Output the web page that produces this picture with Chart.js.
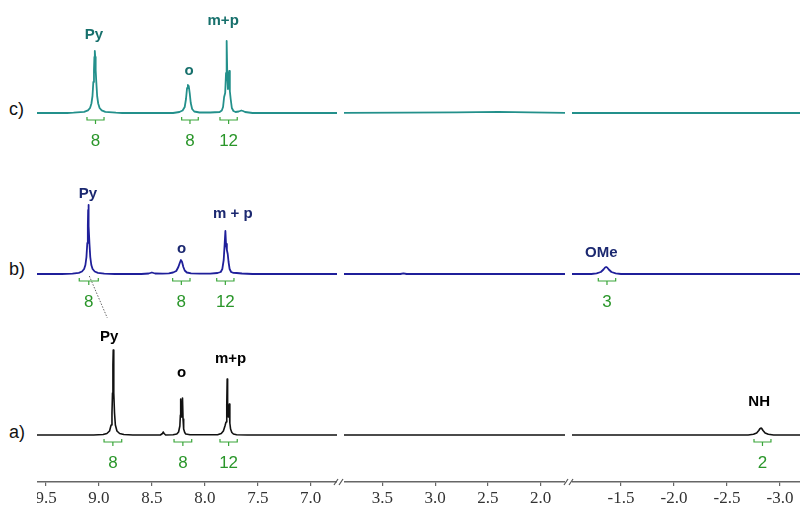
<!DOCTYPE html>
<html><head><meta charset="utf-8">
<script src="https://cdn.jsdelivr.net/npm/chart.js@4/dist/chart.umd.min.js"></script>
<style>
body{margin:0;width:800px;height:509px;position:relative;background:#fff;overflow:hidden;font-family:"Liberation Sans",Arial,sans-serif}
.seg{position:absolute;top:0;height:509px;overflow:hidden}
.lab{position:absolute;font-size:18px;line-height:18px;color:#111;left:9px}
svg{position:absolute;left:0;top:0}
</style></head><body>
<div class="seg" style="left:37px;width:300px"><canvas id="s0" width="300" height="509"></canvas></div>
<div class="seg" style="left:344px;width:221px"><canvas id="s1" width="221" height="509"></canvas></div>
<div class="seg" style="left:572px;width:228px"><canvas id="s2" width="228" height="509"></canvas></div>
<div class="lab" style="top:100px">c)</div>
<div class="lab" style="top:260px">b)</div>
<div class="lab" style="top:423px">a)</div>
<svg width="800" height="509"><g stroke="#555" stroke-width="1.2">
<line x1="334" y1="485" x2="338" y2="479"/><line x1="339" y1="485" x2="343" y2="479"/>
<line x1="564" y1="485" x2="568" y2="479"/><line x1="569" y1="485" x2="573" y2="479"/>
</g></svg>
<script>
// ppm windows of the three axis segments [high, low]
const segmentRanges = [[9.585, 6.752], [3.863, 1.770], [-1.038, -3.189]];
const spectrumNames = ['a)', 'b)', 'c)'];
const baselineOffsets = [0, 161, 322];
const traceColors = ['#111111', '#1f1f9a', '#23908b'];
const labelColors = ['#000000', '#1b2870', '#17706c'];

// spectra: [ppm, relative intensity]
const specA = [[9.70,0],[9.05,0],[8.96,0.5],[8.925,1.5],[8.90,4],[8.885,10],[8.877,22],[8.872,42],[8.868,70],[8.865,85],[8.862,70],[8.858,42],[8.853,22],[8.845,10],[8.830,4],[8.805,1.5],[8.765,0.5],[8.68,0],
[8.42,0],[8.40,1.5],[8.392,3],[8.385,1.5],[8.37,0],
[8.30,0.3],[8.265,1],[8.248,3],[8.236,9],[8.231,20],[8.228,36],[8.224,18],[8.220,32],[8.216,20],[8.211,37],[8.206,16],[8.200,6],[8.190,2.5],[8.18,1],[8.14,0.3],
[7.88,0.3],[7.845,1.5],[7.825,4],[7.81,9],[7.80,13],[7.793,30],[7.789,56],[7.785,24],[7.779,18],[7.773,26],[7.769,31],[7.764,12],[7.757,6],[7.745,2.5],[7.73,1],[7.70,0.3],[7.60,0],[6.60,0],
[3.95,0],[1.6,0],[-0.9,0],
[-2.70,0],[-2.75,0.7],[-2.78,2],[-2.80,4.5],[-2.812,6.5],[-2.82,7],[-2.828,6.5],[-2.84,4.5],[-2.86,2],[-2.89,0.7],[-2.94,0],[-3.3,0]];

const specB = [[9.70,0],[9.35,0],[9.25,0.4],[9.19,1.2],[9.16,2.5],[9.14,5],[9.128,9],[9.118,17],[9.110,31],[9.105,48],[9.102,64],[9.100,69],[9.098,64],[9.095,48],[9.090,31],[9.082,17],[9.072,9],[9.060,5],[9.04,2.5],[9.01,1.2],[8.95,0.4],[8.85,0],
[8.60,0],[8.53,0.5],[8.50,1.5],[8.47,0.5],[8.40,0.3],
[8.34,0.7],[8.30,1.5],[8.27,3],[8.25,7],[8.237,11],[8.226,14],[8.215,12],[8.203,7],[8.19,3.5],[8.17,1.5],[8.13,0.7],[8.05,0.3],[7.95,0.3],
[7.88,1],[7.85,2],[7.835,5],[7.822,14],[7.813,30],[7.806,43],[7.800,30],[7.792,24],[7.784,20],[7.776,12],[7.766,5],[7.752,2],[7.73,1.2],[7.70,1],[7.65,0.5],[7.55,0],[6.60,0],
[3.95,0],[3.33,0],[3.30,0.7],[3.27,0],[1.6,0],
[-0.9,0],[-1.22,0],[-1.27,0.7],[-1.31,2],[-1.335,4.5],[-1.35,6.5],[-1.36,7],[-1.37,6.5],[-1.385,4.5],[-1.41,2],[-1.45,0.7],[-1.50,0],[-3.3,0]];

const specC = [[9.70,0],[9.30,0],[9.24,0.3],[9.14,1.1],[9.104,2.6],[9.084,5],[9.071,9.5],[9.061,17],[9.053,31],[9.047,43],[9.043,56],[9.039,62],[9.035,56],[9.031,43],[9.025,31],[9.017,17],[9.007,9.5],[8.994,5],[8.974,2.6],[8.94,1.1],[8.84,0.3],[8.78,0],
[8.30,0],[8.24,1],[8.21,2.5],[8.19,6],[8.178,14],[8.168,25],[8.160,28],[8.152,27],[8.143,20],[8.133,10],[8.12,4],[8.10,1.5],[8.05,0.5],[7.95,0.5],
[7.86,1],[7.84,2.5],[7.828,6],[7.818,16],[7.808,20],[7.800,40],[7.794,72],[7.788,38],[7.782,24],[7.776,36],[7.770,42],[7.764,22],[7.756,14],[7.745,5],[7.73,2],[7.71,1],[7.68,1.5],[7.655,2.5],[7.64,2],[7.62,1],[7.55,0],[6.60,0],
[3.95,0],[3.3,0.3],[2.8,0.6],[2.4,1.2],[2.1,0.6],[1.6,0],[-0.9,0],[-3.3,0]];

// peak labels: [spectrum, ppm, height above baseline, text]
const peakLabels = [
 [2, 9.047, 74, 'Py'], [2, 8.148, 38, 'o'], [2, 7.827, 88, 'm+p'],
 [1, 9.104, 76, 'Py'], [1, 8.220, 21, 'o'], [1, 7.736, 56, 'm + p'], [1, -1.314, 17, 'OMe'],
 [0, 8.904, 94, 'Py'], [0, 8.219, 58, 'o'], [0, 7.757, 72, 'm+p'], [0, -2.804, 29, 'NH']
];
// integrals: [spectrum, from ppm, to ppm, value]
const integrals = [
 [2, 9.113, 8.952, '8'], [2, 8.219, 8.062, '8'], [2, 7.857, 7.694, '12'],
 [1, 9.186, 9.006, '8'], [1, 8.304, 8.140, '8'], [1, 7.888, 7.725, '12'], [1, -1.286, -1.450, '3'],
 [0, 8.952, 8.785, '8'], [0, 8.291, 8.124, '8'], [0, 7.857, 7.694, '12'], [0, -2.755, -2.915, '2']
];
// dotted connector: [spectrum, ppm1, h1, ppm2, h2]
const connector = [0, 9.091, 159, 8.921, 117];

const spectra = [specA, specB, specC];

const annot = {
  id: 'annot',
  afterDatasetsDraw(chart) {
    const ctx = chart.ctx, xs = chart.scales.x, ys = chart.scales.y;
    const inR = p => p <= xs.max + 0.3 && p >= xs.min - 0.3;
    ctx.save();
    if (inR(connector[1])) {
      const o = baselineOffsets[connector[0]];
      ctx.strokeStyle = '#666'; ctx.lineWidth = 1; ctx.setLineDash([1.5, 1.5]);
      ctx.beginPath();
      ctx.moveTo(xs.getPixelForValue(connector[1]), ys.getPixelForValue(o + connector[2]));
      ctx.lineTo(xs.getPixelForValue(connector[3]), ys.getPixelForValue(o + connector[4]));
      ctx.stroke(); ctx.setLineDash([]);
    }
    ctx.textAlign = 'center'; ctx.textBaseline = 'alphabetic';
    peakLabels.forEach(([si, ppm, h, txt]) => {
      if (!inR(ppm)) return;
      ctx.font = 'bold 15px "Liberation Sans", Arial, sans-serif';
      ctx.fillStyle = labelColors[si];
      ctx.fillText(txt, xs.getPixelForValue(ppm), ys.getPixelForValue(baselineOffsets[si] + h));
    });
    integrals.forEach(([si, a, b, txt]) => {
      if (!inR(a)) return;
      const x1 = xs.getPixelForValue(a), x2 = xs.getPixelForValue(b), xm = (x1 + x2) / 2;
      const y0 = ys.getPixelForValue(baselineOffsets[si]) + 7;
      ctx.strokeStyle = '#3aa63a'; ctx.lineWidth = 1.2;
      ctx.beginPath();
      ctx.moveTo(x1, y0 - 3); ctx.lineTo(x1, y0); ctx.lineTo(x2, y0); ctx.lineTo(x2, y0 - 3);
      ctx.moveTo(xm, y0); ctx.lineTo(xm, y0 + 4);
      ctx.stroke();
      ctx.font = '17px "Liberation Sans", Arial, sans-serif';
      ctx.fillStyle = '#2a962a';
      ctx.fillText(txt, xm, ys.getPixelForValue(baselineOffsets[si] - 33));
    });
    ctx.restore();
  }
};

segmentRanges.forEach((r, i) => {
  new Chart(document.getElementById('s' + i), {
    type: 'line',
    data: {
      datasets: spectra.map((s, si) => ({
        label: spectrumNames[si],
        data: s.map(([p, h]) => ({ x: p, y: h + baselineOffsets[si] })),
        borderColor: traceColors[si],
        borderWidth: si === 0 ? 1.6 : 1.8,
        pointRadius: 0, tension: 0, fill: false,
        borderJoinStyle: 'round'
      }))
    },
    options: {
      responsive: false, animation: false, devicePixelRatio: 1,
      layout: { padding: 0 },
      plugins: { legend: { display: false }, tooltip: { enabled: false } },
      scales: {
        x: {
          type: 'linear', reverse: true, min: r[1], max: r[0],
          afterFit(s) { s.paddingLeft = 0; s.paddingRight = 0; s.height = 27; },
          border: { display: true, color: '#666', width: 1.5 },
          grid: { display: true, drawOnChartArea: false, drawTicks: true, tickLength: 4, color: '#666', lineWidth: 1.2 },
          ticks: { stepSize: 0.5, includeBounds: false, autoSkip: false, maxRotation: 0, padding: 2,
                   color: '#333', font: { family: '"Liberation Serif", "Times New Roman", serif', size: 17 },
                   callback: v => v.toFixed(1) }
        },
        y: { display: false, min: -47, max: 435 }
      }
    },
    plugins: [annot]
  });
});
</script>
</body></html>
